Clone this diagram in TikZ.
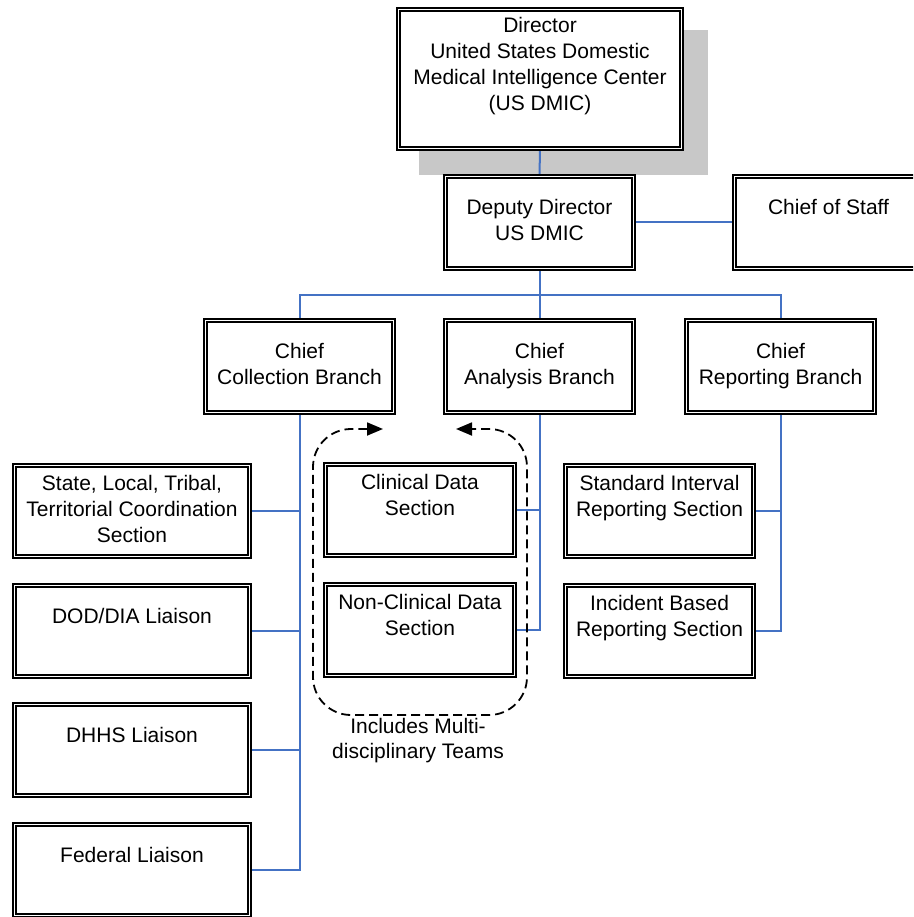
\documentclass[tikz,border=0pt]{standalone}
\usepackage{fontspec}
\setmainfont{Liberation Sans}
\usetikzlibrary{arrows.meta,backgrounds,calc}
\definecolor{linkblue}{HTML}{4472C4}
\definecolor{shadowgray}{HTML}{C8C8C8}
\begin{document}
\begin{tikzpicture}[x=1pt,y=-1pt,
  box/.style={draw=black, double=white, line width=1.7pt, double distance=1.8pt,
    fill=white, rectangle, inner sep=0pt, align=center,
    font=\fontsize{21}{26}\selectfont},
  bigbox/.style={box, minimum width=283pt, minimum height=139pt},
  midbox/.style={box, minimum width=188pt, minimum height=92pt},
  leftbox/.style={box, minimum width=235pt, minimum height=91pt},
  secbox/.style={box, minimum width=189pt, minimum height=91pt},
  conn/.style={draw=linkblue, line width=2pt},
  teamline/.style={draw=black, line width=1.8pt, dash pattern=on 9pt off 5pt,
    rounded corners=38pt,
    {Triangle[length=16pt,width=13pt]}-{Triangle[length=16pt,width=13pt]}},
  note/.style={align=center, font=\fontsize{21}{25}\selectfont}
]
\useasboundingbox (0,0) rectangle (913,917);
\clip (0,0) rectangle (913,917);

% boxes
\node[bigbox] (dir) at (540,79) {Director\strut\\United States Domestic\strut\\Medical Intelligence Center\strut\\(US DMIC)\strut\\\strut};
\node[midbox] (dep) at (539.5,222.5) {Deputy Director\strut\\US DMIC\strut};
\node[midbox] (cos) at (828.5,222.5) {Chief of Staff\strut\\\strut};

\node[midbox] (coll) at (299.5,366.5) {Chief\strut\\Collection Branch\strut};
\node[midbox] (ana) at (539.5,366.5) {Chief\strut\\Analysis Branch\strut};
\node[midbox] (rep) at (780.5,366.5) {Chief\strut\\Reporting Branch\strut};

\node[leftbox] (sltt) at (132,511) {State, Local, Tribal,\strut\\Territorial Coordination\strut\\Section\strut};
\node[leftbox] (dod) at (132,631) {DOD/DIA Liaison\strut\\\strut};
\node[leftbox] (dhhs) at (132,750) {DHHS Liaison\strut\\\strut};
\node[leftbox] (fed) at (132,870) {Federal Liaison\strut\\\strut};

\node[secbox] (cds) at (420,510) {Clinical Data\strut\\Section\strut\\\strut};
\node[secbox] (ncd) at (420,630) {Non-Clinical Data\strut\\Section\strut\\\strut};

\node[secbox, minimum width=188pt] (sis) at (659.5,511) {Standard Interval\strut\\Reporting Section\strut\\\strut};
\node[secbox, minimum width=188pt] (ibr) at (659.5,631) {Incident Based\strut\\Reporting Section\strut\\\strut};

% team outline
\draw[teamline] (383,429) -- (313,429) -- (313,715) -- (527,715) -- (527,429) -- (456,429);
\node[note] (team) at (418,741) {Includes Multi-\strut\\disciplinary Teams\strut};

\begin{pgfonlayer}{background}
  \fill[shadowgray] (419,30) rectangle (708,175);
  \draw[conn] (dir.south) -- (dep.north);
  \draw[conn] (dep.east) -- (cos.west);
  \draw[conn] (dep.south) -- (ana.north);
  \draw[conn] (coll.north) |- ($(dep.south)!0.5!(ana.north)$) -| (rep.north);
  % collection
  \draw[conn] (coll.south) |- (fed.east);
  \draw[conn] (sltt.east) -- (sltt.east -| coll.south);
  \draw[conn] (dod.east) -- (dod.east -| coll.south);
  \draw[conn] (dhhs.east) -- (dhhs.east -| coll.south);
  % analysis
  \draw[conn] (ana.south) |- (ncd.east);
  \draw[conn] (cds.east) -- (cds.east -| ana.south);
  % reporting
  \draw[conn] (rep.south) |- (ibr.east);
  \draw[conn] (sis.east) -- (sis.east -| rep.south);
\end{pgfonlayer}
\end{tikzpicture}
\end{document}
